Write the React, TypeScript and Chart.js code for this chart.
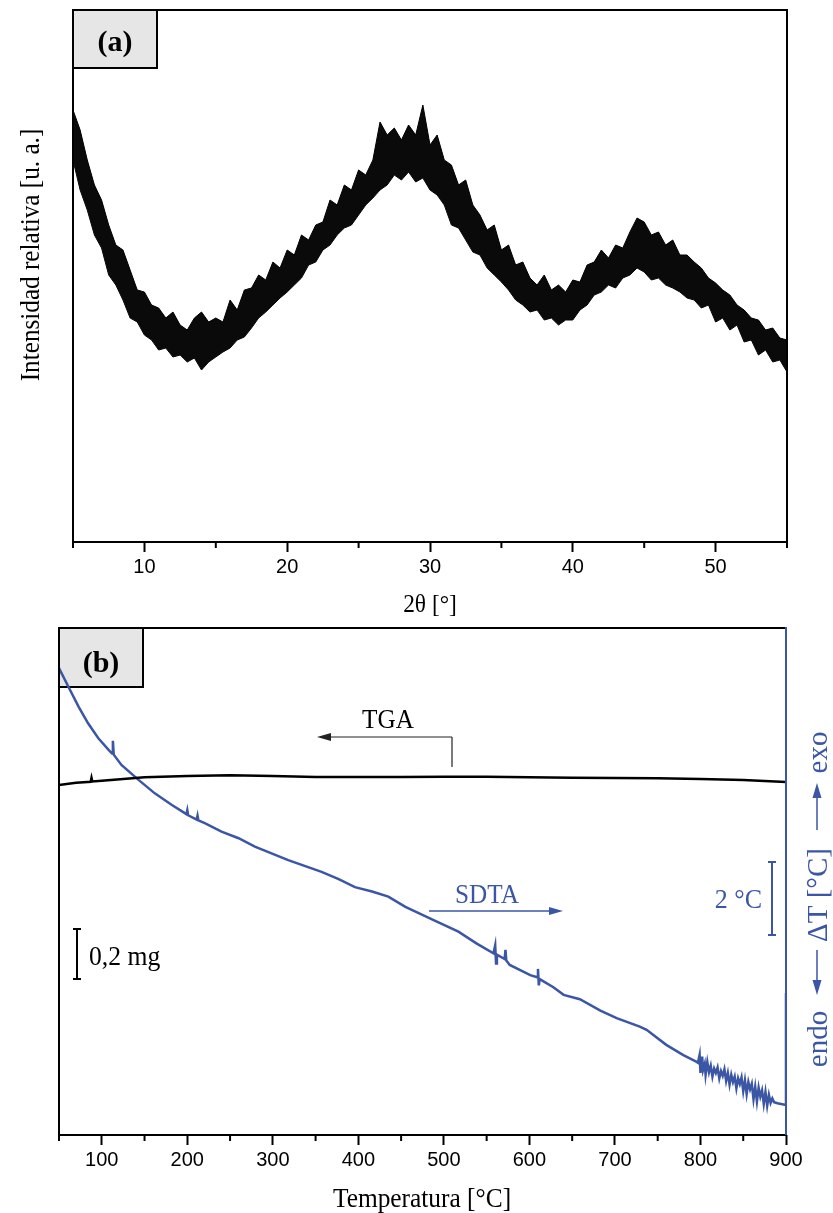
import React, { useEffect, useRef } from "react";
import { Chart, registerables } from "chart.js";
Chart.register(...registerables);

const SERIF = '"Liberation Serif", "Times New Roman", Times, serif';
const SANS = '"Liberation Sans", Arial, Helvetica, sans-serif';
const BLUE = "#3b56a5";

// ---------- (a) XRD pattern: upper / lower edge of the noisy trace (counts, a.u.) ----------
const xrdTwoTheta = [5, 5.5, 6, 6.5, 7, 7.5, 8, 8.5, 9, 9.5, 10, 10.5, 11, 11.5, 12, 12.5, 13, 13.5, 14, 14.5, 15, 15.5, 16, 16.5, 17, 17.5, 18, 18.5, 19, 19.5, 20, 20.5, 21, 21.5, 22, 22.5, 23, 23.5, 24, 24.5, 25, 25.5, 26, 26.5, 27, 27.5, 28, 28.5, 29, 29.5, 30, 30.5, 31, 31.5, 32, 32.5, 33, 33.5, 34, 34.5, 35, 35.5, 36, 36.5, 37, 37.5, 38, 38.5, 39, 39.5, 40, 40.5, 41, 41.5, 42, 42.5, 43, 43.5, 44, 44.5, 45, 45.5, 46, 46.5, 47, 47.5, 48, 48.5, 49, 49.5, 50, 50.5, 51, 51.5, 52, 52.5, 53, 53.5, 54, 54.5, 55];
const xrdUpper = [432, 412, 382, 357, 342, 317, 297, 292, 272, 252, 250, 237, 234, 224, 230, 217, 212, 224, 230, 220, 224, 220, 242, 232, 252, 254, 267, 262, 280, 274, 292, 287, 307, 302, 317, 320, 342, 337, 357, 352, 372, 367, 382, 420, 407, 414, 402, 417, 407, 437, 397, 407, 382, 377, 357, 362, 337, 327, 312, 317, 292, 297, 277, 280, 264, 257, 267, 252, 257, 250, 262, 260, 277, 280, 292, 284, 297, 294, 310, 324, 320, 307, 310, 297, 302, 287, 287, 280, 274, 264, 259, 252, 247, 237, 232, 224, 222, 212, 214, 204, 202];
const xrdLower = [382, 352, 332, 307, 294, 267, 257, 242, 224, 220, 207, 202, 192, 194, 185, 187, 180, 184, 172, 180, 185, 190, 194, 202, 205, 214, 224, 230, 237, 244, 250, 257, 264, 277, 280, 292, 297, 307, 314, 317, 327, 337, 344, 352, 357, 367, 362, 370, 360, 364, 352, 347, 337, 317, 314, 302, 290, 287, 274, 267, 260, 252, 242, 237, 230, 232, 222, 224, 217, 222, 222, 232, 237, 247, 250, 257, 254, 264, 267, 274, 270, 262, 264, 257, 254, 250, 244, 242, 234, 237, 220, 224, 212, 217, 200, 202, 187, 192, 180, 182, 170];
const xrdMajorTicks = [10, 20, 30, 40, 50];
const xrdMinorTicks = [5, 15, 25, 35, 45, 55];

// ---------- (b) TGA / SDTA ----------
const tgaTemp = [50, 70, 87, 88, 89, 100, 150, 200, 250, 300, 350, 400, 450, 500, 550, 600, 650, 700, 750, 800, 850, 900];
const tgaMass = [11.400, 11.409, 11.413, 11.429, 11.414, 11.417, 11.431, 11.436, 11.439, 11.436, 11.432, 11.432, 11.432, 11.433, 11.433, 11.431, 11.429, 11.428, 11.427, 11.424, 11.420, 11.412];

const sdtaTemp = [50, 61, 73, 84, 96, 108, 112, 113, 114, 123, 143, 162, 182, 199, 200, 201, 211, 212, 213, 221, 240, 260, 279, 318, 357, 377, 396, 416, 435, 455, 488, 517, 538, 558, 560, 561, 562, 571, 572, 573, 577, 601, 609, 610, 611, 612, 628, 640, 659, 683, 702, 729, 737, 760, 780, 795,
  797, 799, 800, 802, 803, 805, 806, 808, 810, 812, 814, 816, 818, 820, 822, 824, 826, 828, 830, 832, 834, 836, 838, 840, 842, 844, 846, 848, 850, 852, 854, 856, 858, 860, 862, 864, 866, 868, 870, 872, 874, 876, 878, 880, 882, 884, 886, 890, 900, 900];
const sdtaDelta = [2.79, 2.28, 1.73, 1.28, 0.87, 0.55, 0.45, 0.80, 0.42, 0.14, -0.27, -0.64, -0.96, -1.21, -1.10, -1.24, -1.36, -1.25, -1.38, -1.46, -1.69, -1.87, -2.10, -2.47, -2.79, -2.99, -3.21, -3.33, -3.47, -3.75, -4.11, -4.43, -4.75, -5.02, -4.80, -5.30, -5.06, -5.18, -4.93, -5.22, -5.34, -5.62, -5.68, -5.45, -5.90, -5.73, -5.95, -6.16, -6.28, -6.59, -6.80, -7.03, -7.12, -7.53, -7.81, -7.99,
  -8.02, -7.80, -8.30, -7.85, -8.22, -8.05, -8.35, -8.00, -8.28, -8.10, -8.40, -8.18, -8.30, -8.15, -8.45, -8.25, -8.38, -8.20, -8.52, -8.30, -8.62, -8.35, -8.55, -8.40, -8.72, -8.45, -8.60, -8.42, -8.80, -8.50, -8.88, -8.55, -8.75, -8.60, -9.02, -8.68, -9.08, -8.70, -8.95, -8.78, -9.15, -8.82, -9.20, -8.90, -9.12, -9.00, -9.10, -9.13, -9.18, -6.11];
const tempMajorTicks = [100, 200, 300, 400, 500, 600, 700, 800, 900];
const tempMinorTicks = [50, 150, 250, 350, 450, 550, 650, 750, 850];

type TxtOpts = { bold?: boolean; align?: CanvasTextAlign; baseline?: CanvasTextBaseline; sx?: number; color?: string; rot?: number };
function drawText(ctx: CanvasRenderingContext2D, s: string, x: number, y: number, size: number, o: TxtOpts = {}) {
  ctx.save();
  ctx.translate(x, y);
  if (o.rot) ctx.rotate(o.rot);
  ctx.scale(o.sx ?? 1, 1);
  ctx.font = `${o.bold ? "bold " : ""}${size}px ${SERIF}`;
  ctx.textAlign = o.align ?? "center";
  ctx.textBaseline = o.baseline ?? "alphabetic";
  ctx.fillStyle = o.color ?? "#000";
  ctx.fillText(s, 0, 0);
  ctx.restore();
}
function seg(ctx: CanvasRenderingContext2D, x1: number, y1: number, x2: number, y2: number) {
  ctx.beginPath(); ctx.moveTo(x1, y1); ctx.lineTo(x2, y2); ctx.stroke();
}
function arrow(ctx: CanvasRenderingContext2D, x1: number, y1: number, x2: number, y2: number, color: string, w: number, hl: number, hh: number) {
  const a = Math.atan2(y2 - y1, x2 - x1);
  const c = Math.cos(a), s = Math.sin(a);
  ctx.save();
  ctx.strokeStyle = color; ctx.fillStyle = color; ctx.lineWidth = w;
  seg(ctx, x1, y1, x2 - c * hl * 0.7, y2 - s * hl * 0.7);
  ctx.beginPath();
  ctx.moveTo(x2, y2);
  ctx.lineTo(x2 - c * hl - s * hh, y2 - s * hl + c * hh);
  ctx.lineTo(x2 - c * hl + s * hh, y2 - s * hl - c * hh);
  ctx.closePath(); ctx.fill();
  ctx.restore();
}
function minorTicks(chart: any, values: number[]) {
  const { ctx, chartArea: a, scales } = chart;
  ctx.save();
  ctx.strokeStyle = "#000"; ctx.lineWidth = 2;
  for (const v of values) {
    const x = scales.x.getPixelForValue(v);
    seg(ctx, x, a.bottom, x, a.bottom + 6);
  }
  ctx.restore();
}

const xrdDecor = {
  id: "xrdDecor",
  afterDraw(chart: any) {
    const { ctx, chartArea: a } = chart;
    minorTicks(chart, xrdMinorTicks);
    ctx.save();
    ctx.strokeStyle = "#000"; ctx.lineWidth = 2;
    ctx.strokeRect(a.left, a.top, a.right - a.left, a.bottom - a.top);
    ctx.fillStyle = "#e6e6e6";
    ctx.fillRect(a.left, a.top, 84, 58);
    ctx.strokeRect(a.left, a.top, 84, 58);
    ctx.restore();
    drawText(ctx, "(a)", a.left + 42, a.top + 41, 30, { bold: true });
    drawText(ctx, "2θ [°]", 430, 612, 26, { sx: 0.9 });
    drawText(ctx, "Intensidad relativa [u. a.]", 39, 255, 28, { rot: -Math.PI / 2, sx: 0.9 });
  },
};

const thermoDecor = {
  id: "thermoDecor",
  beforeDatasetsDraw(chart: any) {
    const { ctx, chartArea: a } = chart;
    ctx.save();
    ctx.fillStyle = "#e6e6e6";
    ctx.fillRect(a.left, a.top, 84, 59);
    ctx.strokeStyle = "#000"; ctx.lineWidth = 2;
    ctx.strokeRect(a.left, a.top, 84, 59);
    ctx.restore();
    drawText(ctx, "(b)", a.left + 42, a.top + 44, 30, { bold: true });
  },
  afterDraw(chart: any) {
    const { ctx, chartArea: a } = chart;
    minorTicks(chart, tempMinorTicks);
    ctx.save();
    ctx.lineWidth = 2;
    ctx.strokeStyle = "#000";
    ctx.beginPath();
    ctx.moveTo(a.right, a.top); ctx.lineTo(a.left, a.top); ctx.lineTo(a.left, a.bottom); ctx.lineTo(a.right, a.bottom);
    ctx.stroke();
    ctx.strokeStyle = BLUE;
    seg(ctx, a.right, a.top - 1, a.right, a.bottom);

    // TGA annotation
    ctx.strokeStyle = "#222"; ctx.lineWidth = 1.2;
    seg(ctx, 452, 122, 452, 152);
    arrow(ctx, 452, 122, 317, 122, "#222", 1.2, 14, 4);
    drawText(ctx, "TGA", 388, 113, 28, { sx: 0.9 });

    // SDTA annotation
    arrow(ctx, 429, 296, 563, 296, BLUE, 1.5, 14, 4);
    drawText(ctx, "SDTA", 487, 288, 28, { sx: 0.9, color: BLUE });

    // 2 °C scale bar
    ctx.strokeStyle = BLUE; ctx.lineWidth = 2;
    seg(ctx, 772, 247, 772, 320);
    seg(ctx, 768, 247, 776, 247);
    seg(ctx, 768, 320, 776, 320);
    drawText(ctx, "2 °C", 762, 293, 28, { sx: 0.93, align: "right", color: BLUE });

    // 0,2 mg scale bar
    ctx.strokeStyle = "#000";
    seg(ctx, 77, 314, 77, 364);
    seg(ctx, 73, 314, 81, 314);
    seg(ctx, 73, 364, 81, 364);
    drawText(ctx, "0,2 mg", 89, 350, 27, { sx: 0.95, align: "left" });

    // right axis label
    const rot = -Math.PI / 2;
    drawText(ctx, "exo", 827, 137.5, 29, { rot, color: BLUE });
    arrow(ctx, 817, 215, 817, 168, BLUE, 1.5, 15, 4.5);
    drawText(ctx, "ΔT [°C]", 827, 280, 29, { rot, color: BLUE });
    arrow(ctx, 817, 335, 817, 380, BLUE, 1.5, 15, 4.5);
    drawText(ctx, "endo", 827, 424, 29, { rot, color: BLUE });

    // x title
    drawText(ctx, "Temperatura [°C]", 422, 592, 27, { sx: 0.94 });
    ctx.restore();
  },
};

function xAxis(min: number, max: number, major: number[]) {
  return {
    type: "linear" as const,
    min,
    max,
    afterBuildTicks: (scale: any) => {
      scale.ticks = major.map((v) => ({ value: v }));
    },
    afterFit: (scale: any) => {
      scale.height = 78;
    },
    border: { display: false },
    grid: { display: true, drawOnChartArea: false, drawTicks: true, tickLength: 10, tickWidth: 2, tickColor: "#000", color: "#000" },
    ticks: { autoSkip: false, maxRotation: 0, minRotation: 0, padding: 3, color: "#000", font: { family: SANS, size: 20 } },
  };
}

export default function App() {
  const ref1 = useRef<HTMLCanvasElement>(null);
  const ref2 = useRef<HTMLCanvasElement>(null);

  useEffect(() => {
    const upper = xrdTwoTheta.map((x, i) => ({ x, y: xrdUpper[i] }));
    const lower = xrdTwoTheta.map((x, i) => ({ x, y: xrdLower[i] }));
    const ch1 = new Chart(ref1.current as HTMLCanvasElement, {
      type: "line",
      data: {
        datasets: [
          { data: upper, borderColor: "#000", backgroundColor: "#0a0a0a", borderWidth: 1, pointRadius: 0, tension: 0, fill: "+1" },
          { data: lower, borderColor: "#000", borderWidth: 1, pointRadius: 0, tension: 0, fill: false },
        ],
      },
      options: {
        responsive: false,
        animation: false,
        devicePixelRatio: 1,
        parsing: false,
        layout: { padding: { left: 73, right: 46, top: 10, bottom: 0 } },
        plugins: { legend: { display: false }, tooltip: { enabled: false } },
        scales: {
          x: xAxis(5, 55, xrdMajorTicks),
          y: { type: "linear", min: 0, max: 532, display: false },
        },
      } as any,
      plugins: [xrdDecor],
    });

    const tga = tgaTemp.map((x, i) => ({ x, y: tgaMass[i] }));
    const sdta = sdtaTemp.map((x, i) => ({ x, y: sdtaDelta[i] }));
    const ch2 = new Chart(ref2.current as HTMLCanvasElement, {
      type: "line",
      data: {
        datasets: [
          { data: tga, yAxisID: "yTGA", borderColor: "#000", borderWidth: 2.5, pointRadius: 0, tension: 0, fill: false },
          { data: sdta, yAxisID: "ySDTA", borderColor: BLUE, borderWidth: 2.5, pointRadius: 0, tension: 0, fill: false },
        ],
      },
      options: {
        responsive: false,
        animation: false,
        devicePixelRatio: 1,
        parsing: false,
        layout: { padding: { left: 59, right: 47, top: 13, bottom: 0 } },
        plugins: { legend: { display: false }, tooltip: { enabled: false } },
        scales: {
          x: xAxis(50, 900, tempMajorTicks),
          yTGA: { type: "linear", position: "left", min: 10, max: 12.028, display: false },
          ySDTA: { type: "linear", position: "right", min: -10, max: 3.89, display: false },
        },
      } as any,
      plugins: [thermoDecor],
    });

    return () => {
      ch1.destroy();
      ch2.destroy();
    };
  }, []);

  return (
    <div style={{ position: "absolute", left: 0, top: 0, width: 833, height: 1213, background: "#fff" }}>
      <canvas ref={ref1} width={833} height={620} style={{ position: "absolute", left: 0, top: 0, width: 833, height: 620 }} />
      <canvas ref={ref2} width={833} height={598} style={{ position: "absolute", left: 0, top: 615, width: 833, height: 598 }} />
    </div>
  );
}
